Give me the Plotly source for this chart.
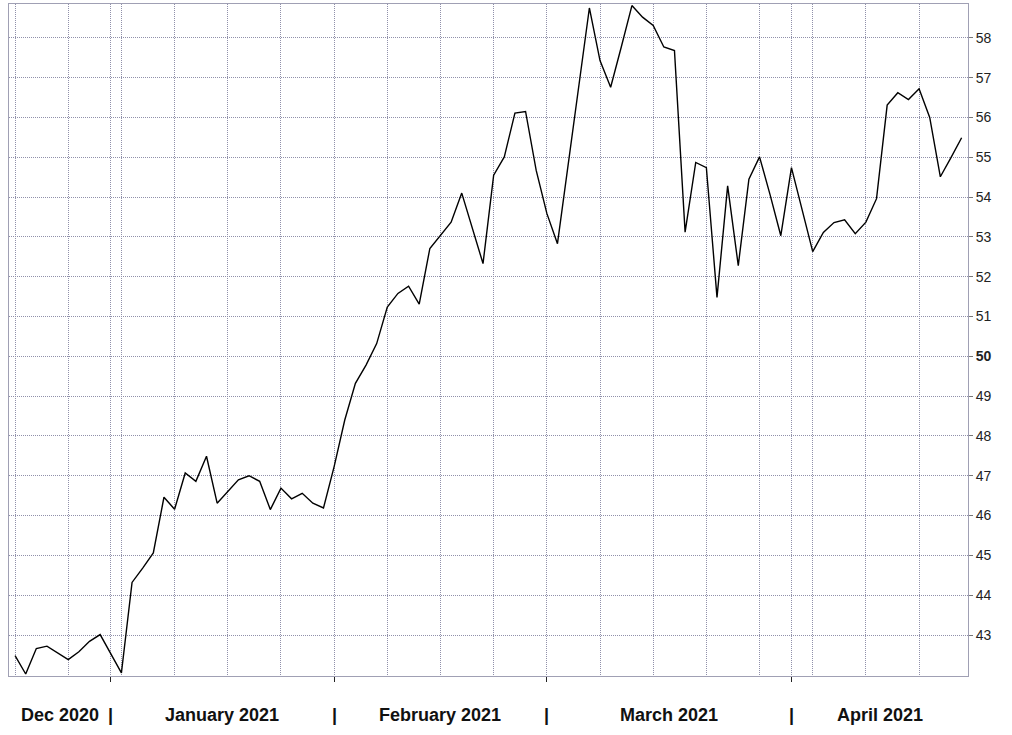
import plotly.graph_objects as go
import numpy as np

# daily closes, weekdays only (holidays skipped)
dates = [
    "2020-12-21", "2020-12-22", "2020-12-23", "2020-12-24", "2020-12-28",
    "2020-12-29", "2020-12-30", "2020-12-31", "2021-01-04", "2021-01-05",
    "2021-01-06", "2021-01-07", "2021-01-08", "2021-01-11", "2021-01-12",
    "2021-01-13", "2021-01-14", "2021-01-15", "2021-01-19", "2021-01-20",
    "2021-01-21", "2021-01-22", "2021-01-25", "2021-01-26", "2021-01-27",
    "2021-01-28", "2021-01-29", "2021-02-01", "2021-02-02", "2021-02-03",
    "2021-02-04", "2021-02-05", "2021-02-08", "2021-02-09", "2021-02-10",
    "2021-02-11", "2021-02-12", "2021-02-16", "2021-02-17", "2021-02-18",
    "2021-02-19", "2021-02-22", "2021-02-23", "2021-02-24", "2021-02-25",
    "2021-02-26", "2021-03-01", "2021-03-02", "2021-03-03", "2021-03-04",
    "2021-03-05", "2021-03-08", "2021-03-09", "2021-03-10", "2021-03-11",
    "2021-03-12", "2021-03-15", "2021-03-16", "2021-03-17", "2021-03-18",
    "2021-03-19", "2021-03-22", "2021-03-23", "2021-03-24", "2021-03-25",
    "2021-03-26", "2021-03-29", "2021-03-30", "2021-03-31", "2021-04-01",
    "2021-04-05", "2021-04-06", "2021-04-07", "2021-04-08", "2021-04-09",
    "2021-04-12", "2021-04-13", "2021-04-14", "2021-04-15", "2021-04-16",
    "2021-04-19", "2021-04-20", "2021-04-21", "2021-04-22", "2021-04-23",
]
prices = [
    42.48, 42.02, 42.66, 42.72, 42.38,
    42.58, 42.84, 43.01, 42.05, 44.32,
    44.68, 45.06, 46.46, 46.16, 47.07,
    46.86, 47.49, 46.31, 46.90, 47.00,
    46.86, 46.15, 46.69, 46.42, 46.56,
    46.31, 46.19, 47.23, 48.40, 49.32,
    49.78, 50.32, 51.24, 51.58, 51.76,
    51.31, 52.71, 53.37, 54.10, 53.21,
    52.33, 54.55, 55.01, 56.11, 56.15,
    54.67, 53.59, 52.83, 54.84, 56.85,
    58.75, 57.43, 56.76, 57.77, 58.81,
    58.52, 58.31, 57.77, 57.68, 53.12,
    54.87, 54.74, 51.48, 54.28, 52.28,
    54.45, 55.01, 54.05, 53.03, 54.74,
    52.63, 53.11, 53.36, 53.43, 53.08,
    53.37, 53.96, 56.31, 56.62, 56.45,
    56.72, 56.00, 54.51, 54.99, 55.49,
]
month_starts = ["2021-01-01", "2021-02-01", "2021-03-01", "2021-04-01"]
month_names = ["Dec 2020", "January 2021", "February 2021", "March 2021", "April 2021"]
y_ticks = list(range(43, 59))

grid_col = "#9090aa"
grid_dash = "1px,1px"
label_font = dict(family="Liberation Sans, Arial", size=18, color="#111111")

# weekday axis: position = number of weekdays since first date
day0 = np.datetime64(dates[0], "D")
x = np.busday_count(day0, np.array(dates, dtype="datetime64[D]"))
mx = np.busday_count(day0, np.array(month_starts, dtype="datetime64[D]"))
x_range = [-0.57, 89.6]

fig = go.Figure()
fig.add_trace(go.Scatter(x=x, y=prices, mode="lines",
                         line=dict(color="#000000", width=1.4), hoverinfo="skip"))

edges = [x_range[0]] + list(mx) + [x_range[1]]
annotations = []
for i, name in enumerate(month_names):
    annotations.append(dict(x=(edges[i] + edges[i + 1]) / 2, y=-0.058, xref="x", yref="paper",
                            text="<b>%s</b>" % name, showarrow=False, font=label_font,
                            xanchor="center", yanchor="middle"))
for m in mx:
    annotations.append(dict(x=m, y=-0.058, xref="x", yref="paper", text="<b>|</b>",
                            showarrow=False, font=label_font, xanchor="center", yanchor="middle"))

fig.update_layout(
    width=1012, height=735,
    margin=dict(l=9, r=44, t=4, b=59),
    paper_bgcolor="white", plot_bgcolor="white",
    showlegend=False,
    annotations=annotations,
    xaxis=dict(range=x_range, tickvals=list(mx), showticklabels=False,
               ticks="outside", ticklen=5, tickcolor="#222222",
               showgrid=True, gridcolor=grid_col, griddash=grid_dash, gridwidth=1,
               minor=dict(tick0=0, dtick=5, showgrid=True, gridcolor=grid_col,
                          griddash=grid_dash, gridwidth=1, ticks=""),
               showline=True, mirror=True, linecolor="#a0a0b4", linewidth=1,
               zeroline=False, fixedrange=True),
    yaxis=dict(range=[41.97, 58.85], side="right", tickvals=y_ticks,
               ticktext=["<b>50</b>" if v == 50 else str(v) for v in y_ticks],
               ticks="outside", ticklen=4, tickcolor="#777777",
               tickfont=dict(family="Liberation Sans, Arial", size=14, color="#222222"),
               showgrid=True, gridcolor=grid_col, griddash=grid_dash, gridwidth=1,
               showline=True, mirror=True, linecolor="#a0a0b4", linewidth=1,
               zeroline=False, fixedrange=True),
)

fig.write_html("out.html", config={"displayModeBar": False},
               post_script="document.body.style.margin='0';")
